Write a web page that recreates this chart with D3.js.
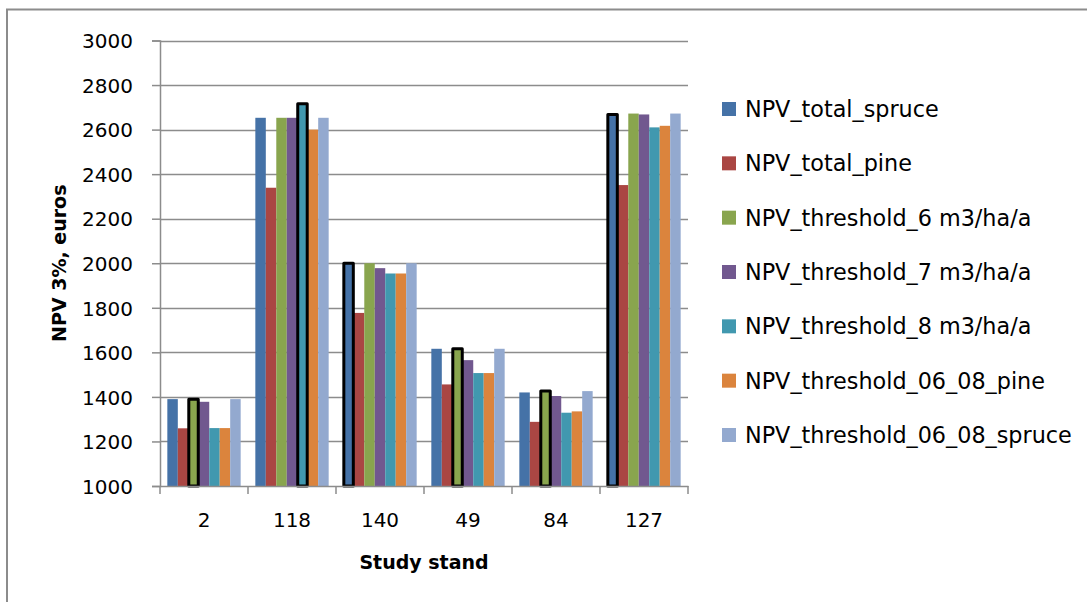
<!DOCTYPE html>
<html>
<head>
<meta charset="utf-8">
<script src="https://cdn.jsdelivr.net/npm/d3@7"></script>
<style>
  html, body { margin: 0; padding: 0; background: #fff; }
  svg { display: block; }
  text { font-family: "DejaVu Sans", sans-serif; fill: #000; }
</style>
</head>
<body>
<svg id="chart" width="1087" height="602"></svg>
<script>
// ---- data ----
const categories = ["2", "118", "140", "49", "84", "127"];
const seriesNames = [
  "NPV_total_spruce",
  "NPV_total_pine",
  "NPV_threshold_6 m3/ha/a",
  "NPV_threshold_7 m3/ha/a",
  "NPV_threshold_8 m3/ha/a",
  "NPV_threshold_06_08_pine",
  "NPV_threshold_06_08_spruce"
];
const npvTotalSpruce      = [1390, 2653, 2000, 1616, 1420, 2668];
const npvTotalPine        = [1259, 2339, 1777, 1456, 1288, 2351];
const npvThreshold6       = [1390, 2653, 2000, 1616, 1426, 2672];
const npvThreshold7       = [1378, 2653, 1978, 1565, 1404, 2668];
const npvThreshold8       = [1260, 2716, 1954, 1507, 1329, 2610];
const npvThreshold0608Pine   = [1260, 2600, 1954, 1507, 1335, 2617];
const npvThreshold0608Spruce = [1390, 2653, 2000, 1616, 1426, 2672];
// index of the series that is outlined in each category
const highlighted = [2, 4, 0, 2, 2, 0];
const yTicks = [1000, 1200, 1400, 1600, 1800, 2000, 2200, 2400, 2600, 2800, 3000];
const colors = ["#4572A7", "#AA4643", "#89A54E", "#71588F", "#4198AF", "#DB843D", "#93A9CF"];

const seriesValues = [npvTotalSpruce, npvTotalPine, npvThreshold6, npvThreshold7,
  npvThreshold8, npvThreshold0608Pine, npvThreshold0608Spruce];

// ---- layout ----
const svg = d3.select("#chart");
const plot = { left: 160, right: 688, top: 40.5, bottom: 486 };

// outer frame
svg.append("rect")
  .attr("x", 7).attr("y", 9.5)
  .attr("width", 1100).attr("height", 620)
  .attr("fill", "none").attr("stroke", "#8c8c8c").attr("stroke-width", 2);

const x0 = d3.scaleBand().domain(categories).range([plot.left, plot.right]).paddingInner(0).paddingOuter(0);
const x1 = d3.scaleBand().domain(d3.range(seriesNames.length)).range([0, x0.bandwidth()]).paddingInner(0).paddingOuter(0.7);
const y = d3.scaleLinear().domain([1000, 3000]).range([plot.bottom, plot.top]);

// gridlines
svg.append("g").selectAll("line").data(yTicks.slice(1)).join("line")
  .attr("x1", plot.left).attr("x2", plot.right)
  .attr("y1", d => Math.round(y(d)) + 0.5).attr("y2", d => Math.round(y(d)) + 0.5)
  .attr("stroke", "#8c8c8c").attr("stroke-width", 1.5);

// bars
const bars = svg.append("g");
categories.forEach((c, ci) => {
  seriesValues.forEach((vals, si) => {
    bars.append("rect")
      .attr("x", x0(c) + x1(si))
      .attr("y", y(vals[ci]))
      .attr("width", x1.bandwidth())
      .attr("height", y(1000) - y(vals[ci]))
      .attr("fill", colors[si]);
  });
});
// highlighted outlines
categories.forEach((c, ci) => {
  const si = highlighted[ci];
  const v = seriesValues[si][ci];
  bars.append("rect")
    .attr("x", x0(c) + x1(si) + 0.5)
    .attr("y", y(v))
    .attr("width", x1.bandwidth() - 1)
    .attr("height", y(1000) - y(v))
    .attr("fill", colors[si])
    .attr("stroke", "#000").attr("stroke-width", 3)
    .attr("stroke-linejoin", "round");
});

// y axis
const yAxis = d3.axisLeft(y).tickValues(yTicks).tickSize(8).tickPadding(19).tickFormat(d3.format("d"));
const gy = svg.append("g").attr("transform", `translate(${plot.left},0)`).call(yAxis);
gy.select(".domain").attr("stroke", "#8c8c8c").attr("stroke-width", 1.5);
gy.selectAll(".tick line").attr("stroke", "#8c8c8c").attr("stroke-width", 1.5);
gy.selectAll(".tick text").attr("font-size", 20).attr("font-family", "DejaVu Sans").attr("fill", "#000").attr("dy", "0.36em");

// x axis
const xAxis = d3.axisBottom(x0).tickSize(0).tickPadding(27);
const gx = svg.append("g").attr("transform", `translate(0,${plot.bottom})`).call(xAxis);
gx.select(".domain").attr("stroke", "#8c8c8c").attr("stroke-width", 1.5);
gx.selectAll(".tick text").attr("font-size", 20).attr("font-family", "DejaVu Sans").attr("fill", "#000");
// category boundary tick marks
gx.append("g").selectAll("line").data(d3.range(categories.length + 1)).join("line")
  .attr("x1", i => plot.left + i * x0.step()).attr("x2", i => plot.left + i * x0.step())
  .attr("y1", 0).attr("y2", 8)
  .attr("stroke", "#8c8c8c").attr("stroke-width", 1.5);

// axis titles
svg.append("text")
  .attr("x", (plot.left + plot.right) / 2).attr("y", 569)
  .attr("text-anchor", "middle").attr("font-weight", "bold").attr("font-size", 19)
  .text("Study stand");
svg.append("text")
  .attr("transform", `translate(66,${(plot.top + plot.bottom) / 2}) rotate(-90)`)
  .attr("text-anchor", "middle").attr("font-weight", "bold").attr("font-size", 19)
  .text("NPV 3%, euros");

// legend
const legend = svg.append("g");
const legendY = d3.scalePoint().domain(d3.range(seriesNames.length)).range([109, 435]);
seriesNames.forEach((name, i) => {
  legend.append("rect")
    .attr("x", 722).attr("y", legendY(i) - 7)
    .attr("width", 14).attr("height", 14)
    .attr("fill", colors[i]);
  legend.append("text")
    .attr("x", 745).attr("y", legendY(i))
    .attr("dy", "0.36em")
    .attr("font-size", 22.3)
    .text(name);
});
</script>
</body>
</html>
